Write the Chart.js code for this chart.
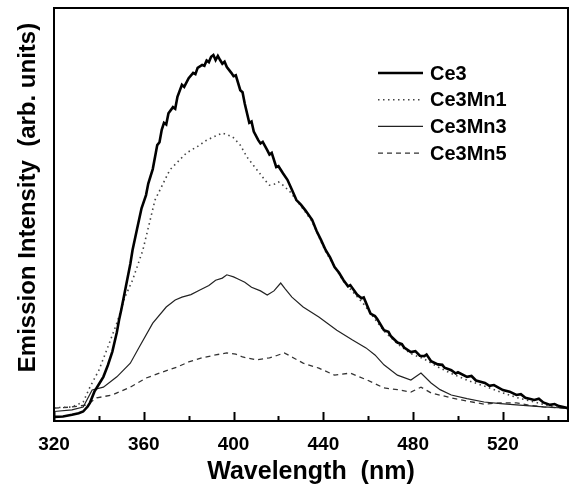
<!DOCTYPE html>
<html>
<head>
<meta charset="utf-8">
<script src="https://cdn.jsdelivr.net/npm/chart.js@4/dist/chart.umd.min.js"></script>
<style>
  html, body { margin: 0; padding: 0; background: #fff; }
  #wrap { width: 570px; height: 488px; position: relative; }
</style>
</head>
<body>
<div id="wrap"><canvas id="c"></canvas></div>
<script>
// ---- data (wavelength nm, intensity arb. units 0..100)
const X_TICKS = [320, 360, 400, 440, 480, 520];
const X_MINOR = [340, 380, 420, 460, 500, 540];

const WL_CE3 = [320, 324, 328, 331, 333, 335, 336, 338, 340, 342, 344, 346, 348, 349, 350, 352, 354, 355, 357, 359,
  361, 362, 364, 366, 367, 368, 369, 370, 371, 373, 374, 375, 377, 378, 380, 382, 383, 384, 386, 387,
  388, 389, 390, 391, 392, 393, 394, 395, 396, 397, 399, 400, 401, 403, 404, 405, 407, 408, 409, 411,
  412, 413, 415, 416, 417, 419, 420, 422, 424, 426, 428, 430, 432, 435, 437, 439, 441, 443, 445, 447,
  449, 451, 452, 455, 457, 458, 461, 463, 464, 467, 469, 470, 473, 475, 476, 479, 481, 483, 485, 486,
  488, 491, 493, 494, 497, 499, 500, 504, 506, 508, 512, 514, 516, 520, 523, 526, 528, 530, 534, 536,
  538, 541, 543, 545, 549];
const CE3 = [1.0, 1.1, 1.5, 1.9, 2.3, 3.5, 4.4, 7.1, 8.9, 10.7, 13.5, 16.8, 21.5, 24.5, 27.0, 32.5, 38.0, 41.4, 46.5, 51.5,
  54.7, 57.5, 61.0, 66.8, 67.5, 70.5, 72.2, 71.8, 74.5, 76.0, 75.6, 78.5, 81.4, 80.9, 83.0, 84.3, 84.0, 85.5, 86.2, 86.0,
  87.3, 86.9, 88.2, 88.6, 87.4, 88.4, 87.4, 86.5, 87.0, 85.7, 84.3, 83.5, 83.7, 80.1, 79.6, 76.8, 72.2, 72.5, 70.1, 68.0,
  67.2, 67.6, 65.6, 64.5, 64.9, 61.5, 61.7, 60.0, 58.4, 56.0, 53.5, 52.4, 51.0, 48.7, 46.0, 43.8, 41.4, 39.6, 37.3, 35.9,
  34.1, 32.6, 32.9, 30.6, 29.7, 29.9, 26.0, 25.4, 24.7, 22.0, 21.6, 20.6, 19.0, 18.6, 17.8, 16.7, 16.9, 15.8, 15.7, 16.1,
  14.5, 13.7, 13.6, 12.9, 12.3, 11.5, 11.8, 10.7, 10.9, 9.8, 9.2, 8.5, 8.7, 7.5, 7.1, 6.3, 6.5, 5.6, 5.1, 5.4,
  4.5, 3.9, 4.1, 3.6, 3.1];

const WL_MN1 = [320, 328, 333, 336, 340, 343.5, 348, 351.6, 355, 359.6, 365, 371.6, 379, 384, 388, 392, 395, 399.6, 403, 406,
  409, 411.6, 414, 416, 418, 420, 422, 425, 428, 432, 435, 441, 449, 458, 467, 473, 479, 485, 491, 497,
  504, 512, 519, 526, 534, 541, 549];
const CE3MN1 = [3.2, 3.4, 4.6, 8.2, 12.3, 17.2, 23.7, 30.0, 34.1, 41.4, 53.5, 60.8, 64.9, 66.5, 68.0, 69.0, 69.7, 68.8, 66.8, 63.9,
  61.8, 60.0, 58.3, 57.1, 57.3, 57.9, 57.1, 55.6, 53.5, 50.6, 48.3, 41.0, 33.8, 28.3, 21.8, 18.7, 16.3, 15.0, 13.1, 11.5,
  9.9, 8.4, 7.0, 5.7, 4.6, 3.6, 3.0];

const WL_MN3 = [320, 328, 333, 337, 342, 348, 354, 358, 364, 370, 374, 377, 381, 385, 389, 392, 395, 397, 400, 402,
  405, 408, 412, 415, 418, 421, 423, 426, 431, 438, 446, 453, 459, 463, 467, 473, 479, 483.5, 488, 492,
  497, 504, 511.6, 519, 526, 538, 549];
const CE3MN3 = [2.3, 2.7, 3.4, 7.5, 8.2, 10.7, 14.0, 17.9, 23.7, 27.6, 29.3, 30.0, 30.6, 31.7, 32.8, 34.1, 34.6, 35.4, 34.9, 34.4,
  33.6, 32.4, 31.5, 30.5, 31.5, 33.4, 32.0, 30.0, 27.6, 25.2, 22.0, 19.6, 17.7, 16.0, 13.6, 11.1, 9.9, 11.6, 9.2, 7.6,
  6.3, 5.4, 4.6, 4.2, 3.9, 3.4, 3.1];

const WL_MN5 = [320, 328, 334.7, 339, 346, 354, 361, 368.6, 375, 380, 386, 392, 397, 401, 404, 410, 416, 419, 422.6, 427,
  431, 438, 445, 452, 459.6, 467, 473, 479, 483.5, 488, 497, 504, 511.6, 519, 526, 532, 538, 549];
const CE3MN5 = [3.1, 3.4, 3.9, 5.6, 6.3, 8.2, 10.4, 11.9, 13.1, 14.3, 15.3, 16.0, 16.5, 16.2, 15.5, 14.8, 15.3, 15.8, 16.5, 15.2,
  14.0, 12.8, 11.1, 11.6, 9.9, 8.0, 7.6, 7.0, 8.2, 6.8, 5.6, 4.8, 4.1, 4.4, 4.4, 3.8, 3.4, 3.1];

const SERIES = [
  { label: "Ce3",    wl: WL_CE3, v: CE3,    color: "#000", width: 2.6, dash: [] },
  { label: "Ce3Mn1", wl: WL_MN1, v: CE3MN1, color: "#444", width: 1.6, dash: [1.5, 3.5] },
  { label: "Ce3Mn3", wl: WL_MN3, v: CE3MN3, color: "#222", width: 1.2, dash: [] },
  { label: "Ce3Mn5", wl: WL_MN5, v: CE3MN5, color: "#333", width: 1.3, dash: [5, 4] },
];

const FONT = "'Liberation Sans', Arial, sans-serif";
const Y_TITLE = "Emission Intensity  (arb. units)";

// frame round the plot + inward ticks on the x axis + y title (sits above centre in the original)
const framePlugin = {
  id: "frame",
  afterDatasetsDraw(chart) {
    const { ctx, chartArea: a, scales: { x } } = chart;
    ctx.save();
    ctx.strokeStyle = "#000";
    ctx.lineWidth = 2;
    ctx.strokeRect(a.left, a.top, a.right - a.left, a.bottom - a.top);
    const tick = (v, len) => {
      const px = Math.round(x.getPixelForValue(v)) + 0.5;
      ctx.beginPath(); ctx.moveTo(px, a.bottom); ctx.lineTo(px, a.bottom - len); ctx.stroke();
    };
    X_TICKS.forEach(v => tick(v, 9));
    X_MINOR.forEach(v => tick(v, 5));

    ctx.translate(a.left - 26, (a.top + a.bottom) / 2 - 17);
    ctx.rotate(-Math.PI / 2);
    ctx.font = "bold 24px " + FONT;
    ctx.fillStyle = "#000";
    ctx.textAlign = "center";
    ctx.textBaseline = "middle";
    ctx.fillText(Y_TITLE, 0, 0);
    ctx.restore();
  },
};

// legend inside the plot, upper right
const legendPlugin = {
  id: "inLegend",
  afterDatasetsDraw(chart) {
    const { ctx, chartArea: a } = chart;
    const x0 = a.right - 190, y0 = a.top + 65, row = 26.7;
    ctx.save();
    ctx.font = "bold 20px " + FONT;
    ctx.textBaseline = "middle";
    chart.data.datasets.forEach((ds, i) => {
      const y = y0 + i * row;
      ctx.strokeStyle = ds.borderColor;
      ctx.lineWidth = ds.borderWidth;
      ctx.setLineDash(ds.borderDash || []);
      ctx.beginPath(); ctx.moveTo(x0, y); ctx.lineTo(x0 + 45, y); ctx.stroke();
      ctx.setLineDash([]);
      ctx.fillStyle = "#000";
      ctx.fillText(ds.label, x0 + 52, y + 1);
    });
    ctx.restore();
  },
};

new Chart(document.getElementById("c"), {
  type: "line",
  data: {
    datasets: SERIES.map(s => ({
      label: s.label,
      data: s.wl.map((w, i) => ({ x: w, y: s.v[i] })),
      borderColor: s.color, borderWidth: s.width, borderDash: s.dash,
      pointRadius: 0, tension: 0, fill: false,
    })),
  },
  options: {
    responsive: true, maintainAspectRatio: false, animation: false,
    layout: { padding: { top: 8, right: 2, left: 0, bottom: 0 } },
    plugins: { legend: { display: false }, tooltip: { enabled: false } },
    scales: {
      x: {
        type: "linear", min: 320, max: 549,
        afterBuildTicks: s => { s.ticks = X_TICKS.map(v => ({ value: v })); },
        afterFit: s => { s.height = 67; },
        grid: { display: false, drawTicks: false }, border: { display: false },
        ticks: { color: "#000", padding: 12, maxRotation: 0, font: { family: FONT, size: 19, weight: "bold" } },
        title: { display: true, text: "Wavelength  (nm)", color: "#000", padding: { top: 6, bottom: 1 },
                 font: { family: FONT, size: 25, weight: "bold" } },
      },
      y: {
        min: 0, max: 100,
        afterFit: s => { s.width = 54; },
        grid: { display: false, drawTicks: false }, border: { display: false },
        ticks: { display: false },
        title: { display: false },
      },
    },
  },
  plugins: [framePlugin, legendPlugin],
});
</script>
</body>
</html>
